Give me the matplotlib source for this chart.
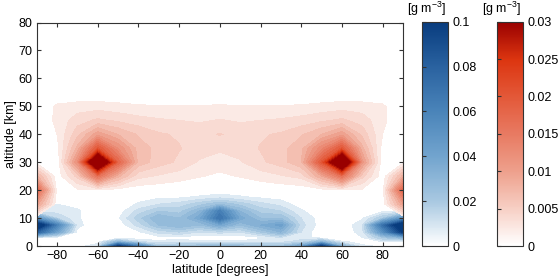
import numpy as np
import matplotlib
matplotlib.use('Agg')
import matplotlib.pyplot as plt
from matplotlib.colors import LinearSegmentedColormap, Normalize
from matplotlib.cm import ScalarMappable

plt.rcParams['font.family'] = ['Liberation Sans', 'DejaVu Sans']
plt.rcParams['font.size'] = 9
plt.rcParams['mathtext.default'] = 'regular'

# latitude grid (degrees)
lat = [-90, -80, -70, -60, -50, -40, -30, -20, -10, 0, 10, 20, 30, 40, 50, 60, 70, 80, 90]

# blue field [g m-3], rows = altitudes below
alt_blue = [0, 1.5, 3, 5, 7.5, 10, 12.5, 15, 17.5, 20, 80]
blue = [
    [0, 0.002, 0.003, 0.008, 0.1, 0.06, 0.02, 0.022, 0.025, 0.03, 0.025, 0.022, 0.022, 0.04, 0.1, 0.03, 0.006, 0.004, 0],
    [0, 0.001, 0.002, 0.003, 0.03, 0.012, 0.006, 0.008, 0.006, 0.006, 0.006, 0.008, 0.009, 0.012, 0.03, 0.006, 0.003, 0.005, 0.003],
    [0.005, 0.002, 0.001, 0, 0, 0.001, 0.003, 0.003, 0.002, 0.002, 0.002, 0.004, 0.01, 0.008, 0.002, 0, 0.005, 0.02, 0.03],
    [0.08, 0.04, 0.003, 0, 0, 0.004, 0.012, 0.015, 0.01, 0.012, 0.01, 0.02, 0.03, 0.01, 0, 0, 0.008, 0.05, 0.1],
    [0.12, 0.06, 0.007, 0, 0.001, 0.012, 0.025, 0.03, 0.025, 0.038, 0.025, 0.035, 0.042, 0.012, 0.002, 0, 0.01, 0.07, 0.12],
    [0.05, 0.015, 0.006, 0, 0.004, 0.018, 0.03, 0.025, 0.038, 0.07, 0.038, 0.025, 0.025, 0.01, 0.002, 0, 0.004, 0.02, 0.05],
    [0.004, 0.008, 0.006, 0, 0.002, 0.012, 0.02, 0.018, 0.03, 0.062, 0.03, 0.018, 0.015, 0.006, 0, 0, 0.001, 0.004, 0.003],
    [0, 0.005, 0.003, 0, 0, 0.006, 0.01, 0.012, 0.018, 0.025, 0.018, 0.012, 0.008, 0.002, 0, 0, 0, 0, 0],
    [0, 0.002, 0, 0, 0, 0.002, 0.004, 0.004, 0.006, 0.008, 0.006, 0.004, 0.003, 0, 0, 0, 0, 0, 0],
    [0, 0, 0, 0, 0, 0, 0, 0, 0, 0.001, 0, 0, 0, 0, 0, 0, 0, 0, 0],
    [0, 0, 0, 0, 0, 0, 0, 0, 0, 0, 0, 0, 0, 0, 0, 0, 0, 0, 0],
]

# red field [g m-3]
alt_red = [0, 10, 15, 20, 25, 30, 35, 40, 45, 50, 55, 80]
red = [
    [0, 0, 0, 0, 0, 0, 0, 0, 0, 0, 0, 0, 0, 0, 0, 0, 0, 0, 0],
    [0, 0, 0, 0, 0, 0, 0, 0, 0, 0, 0, 0, 0, 0, 0, 0, 0, 0, 0],
    [0.01, 0.0005, 0, 0, 0, 0, 0, 0, 0, 0, 0, 0, 0, 0, 0, 0, 0, 0.0005, 0.01],
    [0.018, 0.001, 0.0012, 0.0013, 0.0008, 0.0005, 0.0004, 0.0003, 0.0002, 0.0001, 0.0002, 0.0003, 0.0004, 0.0005, 0.0008, 0.0013, 0.0012, 0.001, 0.018],
    [0.008, 0.0005, 0.005, 0.016, 0.008, 0.0035, 0.0028, 0.0022, 0.0016, 0.0012, 0.0016, 0.0022, 0.0028, 0.0035, 0.009, 0.016, 0.005, 0.0005, 0.008],
    [0.001, 0.0003, 0.012, 0.042, 0.018, 0.007, 0.0052, 0.0042, 0.0028, 0.0022, 0.0028, 0.0042, 0.0052, 0.0075, 0.02, 0.042, 0.011, 0.0003, 0.001],
    [0, 0.0008, 0.008, 0.02, 0.012, 0.0068, 0.0055, 0.0046, 0.0038, 0.0033, 0.0038, 0.0046, 0.0055, 0.007, 0.013, 0.02, 0.008, 0.0008, 0],
    [0, 0.0015, 0.0055, 0.01, 0.0075, 0.0058, 0.0047, 0.0043, 0.004, 0.0046, 0.004, 0.0043, 0.0047, 0.0058, 0.0075, 0.01, 0.0055, 0.0015, 0],
    [0, 0.0019, 0.0038, 0.0048, 0.0042, 0.0036, 0.0032, 0.003, 0.0028, 0.0031, 0.0028, 0.003, 0.0032, 0.0036, 0.0042, 0.0048, 0.0038, 0.0019, 0],
    [0, 0.0018, 0.0022, 0.0023, 0.002, 0.0017, 0.0016, 0.0016, 0.0016, 0.0017, 0.0016, 0.0016, 0.0016, 0.0017, 0.002, 0.0023, 0.0022, 0.0018, 0],
    [0, 0, 0, 0, 0, 0, 0, 0, 0, 0, 0, 0, 0, 0, 0, 0, 0, 0, 0],
    [0, 0, 0, 0, 0, 0, 0, 0, 0, 0, 0, 0, 0, 0, 0, 0, 0, 0, 0],
]

blue_ticks = [0, 0.02, 0.04, 0.06, 0.08, 0.1]
red_ticks = [0, 0.005, 0.01, 0.015, 0.02, 0.025, 0.03]

cm_blue = LinearSegmentedColormap.from_list('bl', [
    (0, '#ffffff'), (0.2, '#a8c8e1'), (0.4, '#72a4ce'), (0.6, '#4a84b9'),
    (0.8, '#2a62a0'), (1.0, '#083c7e')])
cm_red = LinearSegmentedColormap.from_list('rd', [
    (0, '#ffffff'), (0.167, '#f7cfc4'), (0.333, '#eea08c'), (0.5, '#e87a62'),
    (0.667, '#e35838'), (0.833, '#dc3510'), (1.0, '#990000')])
norm_b = Normalize(0, 0.1)
norm_r = Normalize(0, 0.03)

fig = plt.figure(figsize=(5.58, 2.80), dpi=100)
ax = fig.add_axes([0.0656, 0.1214, 0.6566, 0.798])

lv_b = list(np.linspace(0.005, 0.1, 20)) + [1.0]
lv_r = list(np.linspace(0.0015, 0.03, 20)) + [1.0]
ax.contourf(lat, alt_blue, np.array(blue), levels=lv_b, cmap=cm_blue, norm=norm_b)
ax.contourf(lat, alt_red, np.array(red), levels=lv_r, cmap=cm_red, norm=norm_r)

ax.set_xlim(-90, 90)
ax.set_ylim(0, 80)
ax.set_xticks([-80, -60, -40, -20, 0, 20, 40, 60, 80])
ax.set_xticklabels(['\u221280', '\u221260', '\u221240', '\u221220', '0', '20', '40', '60', '80'])
ax.set_yticks(range(0, 81, 10))
ax.tick_params(direction='in', top=True, right=True, length=3, color='#333333', pad=3)
for s in ax.spines.values():
    s.set_color('#333333')
    s.set_linewidth(0.8)
ax.set_xlabel('latitude [degrees]', labelpad=1)
ax.set_ylabel('altitude [km]', labelpad=1)

cax1 = fig.add_axes([0.7557, 0.1214, 0.0477, 0.8011])
cax2 = fig.add_axes([0.8901, 0.1214, 0.0477, 0.8011])
for cax, cm, nm, tk, lab in [(cax1, cm_blue, norm_b, blue_ticks, ['0', '0.02', '0.04', '0.06', '0.08', '0.1']),
                             (cax2, cm_red, norm_r, red_ticks, ['0', '0.005', '0.01', '0.015', '0.02', '0.025', '0.03'])]:
    cb = fig.colorbar(ScalarMappable(norm=nm, cmap=cm), cax=cax, ticks=tk)
    cb.ax.set_yticklabels(lab)
    cb.outline.set_edgecolor('#333333')
    cb.outline.set_linewidth(0.8)
    cax.tick_params(direction='in', left=True, right=False, labelright=True, length=3, color='#333333', pad=3)
    pos = cax.get_position()
    fig.text(pos.x1 - 0.003, pos.y1 + 0.015, '[g m$^{-3}$]', ha='right', va='bottom', fontsize=9)

fig.savefig('out.png', dpi=100)
